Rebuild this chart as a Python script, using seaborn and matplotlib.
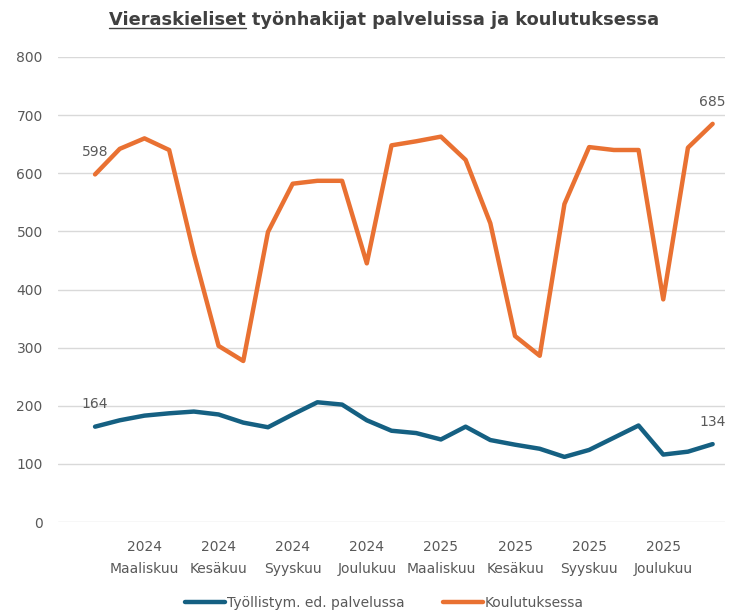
import matplotlib
matplotlib.use('Agg')
import matplotlib.pyplot as plt
from matplotlib.lines import Line2D
import seaborn as sns
import pandas as pd

# kuukaudet 2024-01 ... 2026-02
kuukaudet = ["2024-01", "2024-02", "2024-03", "2024-04", "2024-05", "2024-06",
             "2024-07", "2024-08", "2024-09", "2024-10", "2024-11", "2024-12",
             "2025-01", "2025-02", "2025-03", "2025-04", "2025-05", "2025-06",
             "2025-07", "2025-08", "2025-09", "2025-10", "2025-11", "2025-12",
             "2026-01", "2026-02"]
palvelussa = [164, 175, 183, 187, 190, 185, 171, 163, 185, 206, 202, 175,
              157, 153, 142, 164, 141, 133, 126, 112, 124, 145, 166, 116,
              121, 134]
koulutuksessa = [598, 642, 660, 640, 462, 303, 277, 499, 582, 587, 587, 445,
                 648, 655, 663, 623, 514, 320, 286, 547, 645, 640, 640, 383,
                 644, 685]

tick_kuukaudet = ["2024-03", "2024-06", "2024-09", "2024-12",
                  "2025-03", "2025-06", "2025-09", "2025-12"]
tick_tekstit = ["2024\nMaaliskuu", "2024\nKesäkuu", "2024\nSyyskuu", "2024\nJoulukuu",
                "2025\nMaaliskuu", "2025\nKesäkuu", "2025\nSyyskuu", "2025\nJoulukuu"]

sarja1 = "Työllistym. ed. palvelussa"
sarja2 = "Koulutuksessa"
varit = {sarja1: "#156082", sarja2: "#E97132"}

sns.set_theme(style="white")
plt.rcParams['font.family'] = ['DejaVu Sans']

df = pd.DataFrame({"kk": range(len(kuukaudet)), sarja1: palvelussa, sarja2: koulutuksessa})
df = df.melt(id_vars="kk", var_name="sarja", value_name="arvo")

fig = plt.figure(figsize=(7.39, 6.10), dpi=100)
ax = fig.add_axes([58 / 739, 1 - 522 / 610, (725 - 58) / 739, (522 - 57) / 610])

sns.lineplot(data=df, x="kk", y="arvo", hue="sarja", palette=varit,
             linewidth=3.2, ax=ax, legend=False)

ax.set_xlim(-1.5, 25.5)
ax.set_ylim(0, 800)
ax.set_yticks(range(0, 801, 100))
ax.yaxis.grid(True, color="#D9D9D9", linewidth=1)
ax.xaxis.grid(False)
for s in ax.spines.values():
    s.set_visible(False)
ax.set_xlabel("")
ax.set_ylabel("")
ax.set_xticks([kuukaudet.index(k) for k in tick_kuukaudet])
ax.set_xticklabels(tick_tekstit, linespacing=1.75)
ax.tick_params(axis="x", length=0, pad=13, labelsize=10, labelcolor="#595959")
ax.tick_params(axis="y", length=0, pad=11, labelsize=10, labelcolor="#595959")

# arvot alku- ja loppupisteisiin
for sarja, arvot in [(sarja1, palvelussa), (sarja2, koulutuksessa)]:
    for i in (0, len(arvot) - 1):
        ax.annotate(str(arvot[i]), (i, arvot[i]), xytext=(0, 16), textcoords="offset points",
                    ha="center", va="center", fontsize=10, color="#595959")

kahvat = [Line2D([], [], color=varit[sarja1], linewidth=3.2),
          Line2D([], [], color=varit[sarja2], linewidth=3.2)]
fig.legend(kahvat, [sarja1, sarja2], loc="center", bbox_to_anchor=(0.52, 1 - 603 / 610),
           ncol=2, frameon=False, fontsize=10, handlelength=2.9, handletextpad=0.1,
           columnspacing=2.8, labelcolor="#595959")

# otsikko, jossa ensimmäinen sana alleviivattu
otsikko = fig.text(0.52, 1 - 20 / 610, "Vieraskieliset työnhakijat palveluissa ja koulutuksessa",
                   ha="center", va="center", fontsize=12.8, fontweight="bold", color="#404040")
fig.canvas.draw()
r = fig.canvas.get_renderer()
bb = otsikko.get_window_extent(r)
eka = fig.text(0, 0, "Vieraskieliset", fontsize=12.8, fontweight="bold")
leveys = eka.get_window_extent(r).width
eka.remove()
y_viiva = (bb.y0 + 1) / fig.bbox.height
fig.add_artist(Line2D([bb.x0 / fig.bbox.width, (bb.x0 + leveys) / fig.bbox.width],
                      [y_viiva, y_viiva], color="#404040", linewidth=1))

fig.savefig("out.png", dpi=100)
